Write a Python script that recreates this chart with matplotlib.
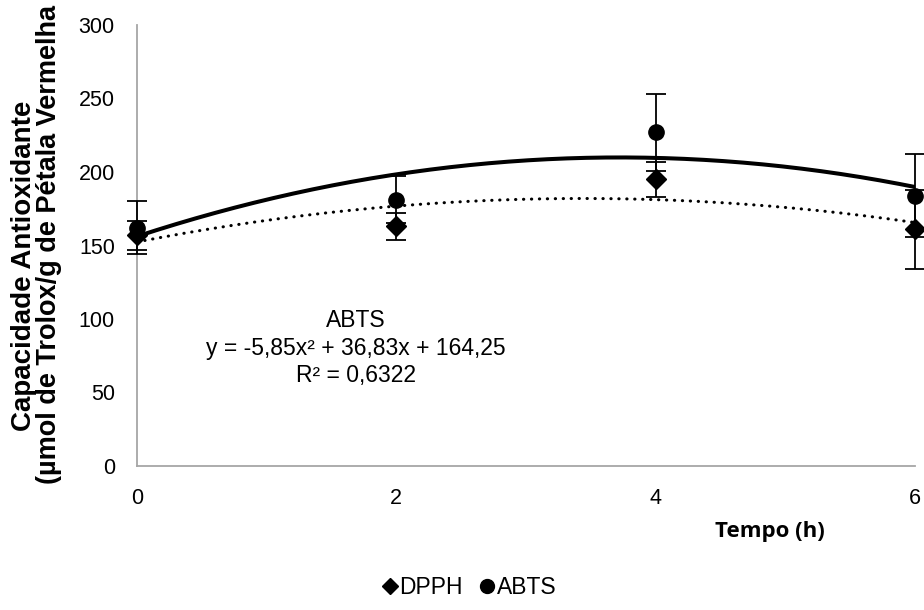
import matplotlib.pyplot as plt
from matplotlib.lines import Line2D
import numpy as np

# data
tempo = [0, 2, 4, 6]
dpph = [157, 163, 195, 161]
dpph_err = [10, 9, 12, 27]
abts = [162, 181, 227, 184]
abts_err = [18, 16, 26, 28]
eq_text = "ABTS\ny = -5,85x\u00b2 + 36,83x + 164,25\nR\u00b2 = 0,6322"

plt.rcParams['font.family'] = ['Liberation Sans', 'DejaVu Sans']

fig = plt.figure(figsize=(9.24, 6.10), dpi=100)
ax = fig.add_axes([137/924, 1-466/610, (915-137)/924, (466-25)/610])

# quadratic trendlines (as Excel would add them)
xs = np.linspace(0, 6, 200)
p_abts = np.polyfit(tempo, abts, 2)
p_dpph = np.polyfit(tempo, dpph, 2)
ax.plot(xs, np.polyval(p_abts, xs), color='black', lw=2.9, zorder=2)
ax.plot(xs, np.polyval(p_dpph, xs), color='black', lw=2.2,
        linestyle=(0, (0.1, 2.5)), dash_capstyle='round', zorder=2)

ax.errorbar(tempo, dpph, yerr=dpph_err, fmt='D', color='black', ms=10,
            ecolor='black', elinewidth=1.3, capsize=7, capthick=1.3,
            zorder=3, clip_on=False)
ax.errorbar(tempo, abts, yerr=abts_err, fmt='o', color='black', ms=11,
            ecolor='black', elinewidth=1.3, capsize=7, capthick=1.3,
            zorder=3, clip_on=False)

ax.set_xlim(0, 6)
ax.set_ylim(0, 300)
ax.set_xticks([0, 2, 4, 6])
ax.set_yticks(range(0, 301, 50))
ax.tick_params(length=0, labelsize=15.5)
ax.tick_params(axis='x', pad=16)
ax.tick_params(axis='y', pad=16)
for s in ['top', 'right']:
    ax.spines[s].set_visible(False)
for s in ['left', 'bottom']:
    ax.spines[s].set_color('#a6a6a6')
    ax.spines[s].set_linewidth(1.3)

ax.text(1.69, 80, eq_text, ha='center', va='center', fontsize=16.5,
        linespacing=1.25)

fig.text(24/924, 1-266/610, 'Capacidade Antioxidante', rotation=90,
         ha='center', va='center', fontsize=20, fontweight='bold')
fig.text(49/924, 1-244/610, '(\u00b5mol de Trolox/g de P\u00e9tala Vermelha',
         rotation=90, ha='center', va='center', fontsize=19.5, fontweight='bold')
fig.text(770/924, 1-531/610, 'Tempo (h)', ha='center', va='center',
         fontsize=16, fontweight='bold', family=['Open Sans', 'DejaVu Sans'])

handles = [Line2D([], [], ls='none', marker='D', color='black', ms=8),
           Line2D([], [], ls='none', marker='o', color='black', ms=10)]
fig.legend(handles, ['DPPH', 'ABTS'], loc='center',
           bbox_to_anchor=(466/924, 1-588/610), ncol=2, frameon=False,
           fontsize=16.5, handletextpad=-0.2, columnspacing=0.5,
           handlelength=1.2)

fig.savefig('out.png', dpi=100)
